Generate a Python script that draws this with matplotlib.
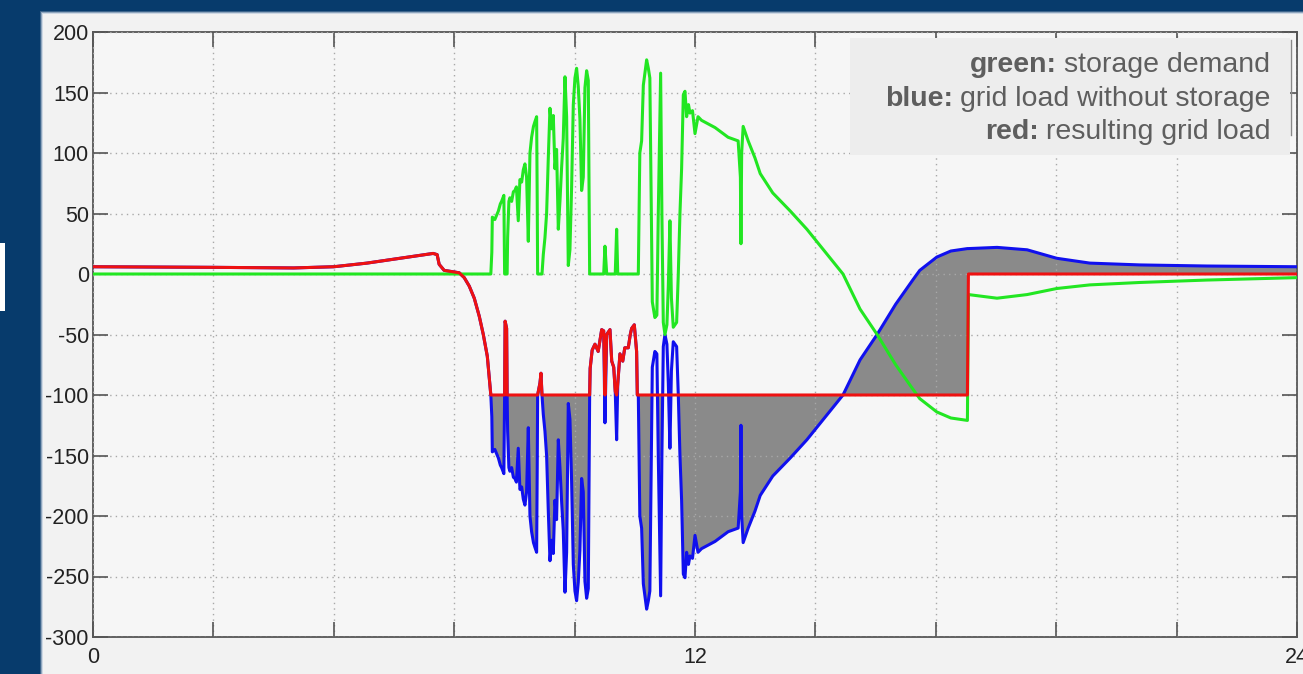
import numpy as np
import matplotlib
matplotlib.use("Agg")
import matplotlib.pyplot as plt
from matplotlib.patches import Rectangle
from matplotlib.lines import Line2D

plt.rcParams["font.family"] = ["Liberation Sans", "DejaVu Sans"]
plt.rcParams["axes.unicode_minus"] = False

W, H = 1303, 674
NAVY = "#073b6c"; PANEL = "#f2f2f2"; AXBG = "#f6f6f6"
GREEN = "#22e622"; BLUE = "#1010ee"; RED = "#ee1111"; FILL = "#8a8a8a"
TXT = "#5e5e5e"

# time of day (hours) and the three load curves
hours = [0.00, 2.40, 4.00, 4.80, 5.46, 6.12, 6.78, 6.86, 6.90, 7.00, 7.15, 7.30, 7.40, 7.50,
         7.60, 7.70, 7.78, 7.86, 7.93, 7.95, 7.96, 8.01, 8.08, 8.12, 8.145, 8.19, 8.205, 8.215,
         8.245, 8.255, 8.265, 8.29, 8.31, 8.345, 8.38, 8.41, 8.44, 8.477, 8.51, 8.545, 8.577,
         8.61, 8.643, 8.677, 8.71, 8.743, 8.78, 8.81, 8.843, 8.855, 8.863, 8.91, 8.93, 8.95,
         8.976, 9.009, 9.042, 9.075, 9.109, 9.142, 9.175, 9.208, 9.241, 9.275, 9.308, 9.341,
         9.374, 9.408, 9.441, 9.474, 9.507, 9.54, 9.574, 9.607, 9.64, 9.673, 9.706, 9.74,
         9.773, 9.806, 9.84, 9.873, 9.90, 9.91, 9.95, 10.006, 10.07, 10.14, 10.18, 10.205,
         10.24, 10.305, 10.34, 10.38, 10.41, 10.438, 10.46, 10.504, 10.56, 10.60, 10.67,
         10.71, 10.737, 10.79, 10.836, 10.85, 10.87, 10.90, 10.936, 10.97, 11.036, 11.07,
         11.10, 11.13, 11.149, 11.20, 11.24, 11.268, 11.315, 11.34, 11.368, 11.401, 11.44,
         11.468, 11.50, 11.53, 11.567, 11.634, 11.667, 11.70, 11.733, 11.767, 11.80, 11.833,
         11.87, 11.90, 11.95, 12.00, 12.06, 12.13, 12.40, 12.66, 12.86, 12.905, 12.916, 12.93,
         12.96, 13.06, 13.195, 13.30, 13.55, 13.90, 14.23, 14.60, 14.95, 15.29, 15.63, 16.00,
         16.34, 16.48, 16.82, 17.10, 17.43, 17.45, 18.02, 18.62, 19.21, 19.87, 20.87, 22.20,
         24.00]

grid_load = [6, 5.5, 5, 6, 9, 13, 17, 16, 8, 3, 2, 1, -3, -10,
             -20, -35, -50, -68, -100, -118, -147, -145, -152, -158, -160, -165, -100, -39,
             -45, -100, -130, -160, -163, -160, -168, -169, -172, -144, -178, -176, -186,
             -191, -180, -127, -200, -213, -222, -226, -230, -160, -100, -90, -82, -100,
             -116, -130, -150, -195, -237, -220, -231, -187, -203, -137, -160, -188,
             -212, -263, -230, -107, -120, -171, -240, -262, -270, -255, -228, -169,
             -180, -254, -268, -260, -100, -78, -63, -58, -64, -46, -47, -123,
             -50, -46, -72, -77, -97, -137, -91, -66, -72, -61, -61,
             -50, -45, -42, -64, -100, -100, -200, -210, -256, -277, -270,
             -262, -150, -77, -64, -66, -150, -266, -150, -60, -50, -58,
             -90, -144, -80, -56, -60, -100, -150, -187, -248, -251, -230,
             -240, -233, -235, -216, -230, -227, -221, -213, -210, -180, -125, -200,
             -222, -210, -196, -183, -167, -152, -137, -118, -100, -71, -50, -25,
             -5, 3, 14, 19, 21, 21, 22, 20, 13, 9, 7.5, 6.6,
             6]

result_load = [6, 5.5, 5, 6, 9, 13, 17, 16, 8, 3, 2, 1, -3, -10,
               -20, -35, -50, -68, -100, -100, -100, -100, -100, -100, -100, -100, -100, -39,
               -45, -100, -100, -100, -100, -100, -100, -100, -100, -100, -100, -100, -100,
               -100, -100, -100, -100, -100, -100, -100, -100, -100, -100, -90, -82, -100,
               -100, -100, -100, -100, -100, -100, -100, -100, -100, -100, -100, -100,
               -100, -100, -100, -100, -100, -100, -100, -100, -100, -100, -100, -100,
               -100, -100, -100, -100, -100, -78, -63, -58, -64, -46, -47, -100,
               -50, -46, -72, -77, -97, -100, -91, -66, -72, -61, -61,
               -50, -45, -42, -64, -100, -100, -100, -100, -100, -100, -100,
               -100, -100, -100, -100, -100, -100, -100, -100, -100, -100, -100,
               -100, -100, -100, -100, -100, -100, -100, -100, -100, -100, -100,
               -100, -100, -100, -100, -100, -100, -100, -100, -100, -100, -100, -100,
               -100, -100, -100, -100, -100, -100, -100, -100, -100, -100, -100, -100,
               -100, -100, -100, -100, -100, 0, 0, 0, 0, 0, 0, 0,
               0]

storage_demand = [0, 0, 0, 0, 0, 0, 0, 0, 0, 0, 0, 0, 0, 0,
                  0, 0, 0, 0, 0, 18, 47, 45, 52, 58, 60, 65, 0, 0,
                  0, 0, 30, 60, 63, 60, 68, 69, 72, 44, 78, 76, 86,
                  91, 80, 27, 100, 113, 122, 126, 130, 60, 0, 0, 0, 0,
                  16, 30, 50, 95, 137, 120, 131, 87, 103, 37, 60, 88,
                  112, 163, 130, 7, 20, 71, 140, 162, 170, 155, 128, 69,
                  80, 154, 168, 160, 0, 0, 0, 0, 0, 0, 0, 23,
                  0, 0, 0, 0, 0, 37, 0, 0, 0, 0, 0,
                  0, 0, 0, 0, 0, 0, 100, 110, 156, 177, 170,
                  162, 50, -23, -36, -34, 50, 166, 50, -40, -50, -42,
                  -10, 44, -20, -44, -40, 0, 50, 87, 148, 151, 130,
                  140, 133, 135, 116, 130, 127, 121, 113, 110, 80, 25, 100,
                  122, 110, 96, 83, 67, 52, 37, 18, 0, -29, -50, -75,
                  -95, -103, -114, -119, -121, -17, -20, -17, -12, -9, -7, -5,
                  -3]

x_ticks = np.arange(0, 24.01, 2.4)
x_labels = ["0", "", "", "", "", "12", "", "", "", "", "24"]
y_ticks = np.arange(-300, 201, 50)

legend_lines = [("green:", "storage demand"),
                ("blue:", "grid load without storage"),
                ("red:", "resulting grid load")]

t = np.array(hours); blue = np.array(grid_load); red = np.array(result_load)
green = np.array(storage_demand)

fig = plt.figure(figsize=(W / 100, H / 100), dpi=100, facecolor=NAVY)
# light slide panel behind the plot
for i, a in enumerate([0.25, 0.5, 0.8]):
    d = 3 - i
    fig.add_artist(Rectangle(((43 - d) / W, 0), 1, (H - 14 + d) / H, transform=fig.transFigure,
                             facecolor="#dfe6ee", alpha=a, edgecolor="none", zorder=-3))
fig.add_artist(Rectangle((43 / W, 0), 1, (H - 14) / H, transform=fig.transFigure,
                         facecolor=PANEL, edgecolor="none", zorder=-2))
fig.add_artist(Rectangle((0, (H - 311) / H), 5 / W, 68 / H, transform=fig.transFigure,
                         facecolor="white", edgecolor="none", zorder=-2))

ax = fig.add_axes([93 / W, 37 / H, 1204 / W, 605 / H])
ax.set_facecolor(AXBG)

ax.fill_between(t, blue, red, where=(blue < red) | (t >= 14.9), interpolate=True,
                color=FILL, lw=0, zorder=1)
ax.plot(t, blue, color=BLUE, lw=2.2, zorder=3)
ax.plot(t, green, color=GREEN, lw=2.2, zorder=3.1)
ax.plot(t, red, color=RED, lw=2.2, zorder=3.2)

ax.set_xlim(0, 24); ax.set_ylim(-300, 200)
ax.set_xticks(x_ticks); ax.set_xticklabels(x_labels)
ax.set_yticks(y_ticks)
ax.set_axisbelow(False)
ax.grid(True, ls=(0, (1, 3)), color="#a8a8a8", lw=1.0)
ax.tick_params(direction="in", length=11, width=1.2, top=True, right=True, color="#555555",
               labelsize=15.5, labelcolor="#222222")
ax.tick_params(axis="x", pad=7)
ax.tick_params(axis="y", pad=3)
for s in ax.spines.values():
    s.set_color("#555555"); s.set_linewidth(1.3)

# legend box with bold colour names
fig.add_artist(Rectangle((850 / W, (H - 155) / H), 440 / W, 117 / H, transform=fig.transFigure,
                         facecolor="#ededed", edgecolor="none", zorder=5))
fig.add_artist(Line2D([1291 / W, 1291 / W], [(H - 135) / H, (H - 40) / H],
                      transform=fig.transFigure, color="#888888", lw=1.0, zorder=5))
renderer = fig.canvas.get_renderer()
for i, (key, desc) in enumerate(legend_lines):
    y = 1 - (65 + 33.5 * i) / H
    tx = fig.text(1270 / W, y, desc, ha="right", va="center", fontsize=20.5, color=TXT, zorder=6)
    bb = tx.get_window_extent(renderer)
    fig.text((bb.x0 - 7) / W, y, key, ha="right", va="center", fontsize=20.5,
             fontweight="bold", color=TXT, zorder=6)

fig.savefig("out.png", dpi=100, facecolor=NAVY)
